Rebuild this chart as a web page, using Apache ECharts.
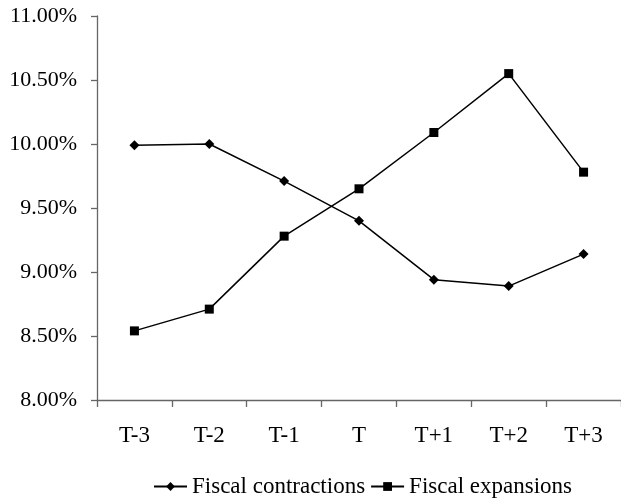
<!DOCTYPE html>
<html>
<head>
<meta charset="utf-8">
<script src="https://cdn.jsdelivr.net/npm/echarts@6/dist/echarts.min.js"></script>
<style>
  html, body { margin: 0; padding: 0; background: #fff; }
  #chart { width: 621px; height: 502px; }
</style>
</head>
<body>
<div id="chart"></div>
<script>
// Event window around the fiscal episode
const periods = ['T-3', 'T-2', 'T-1', 'T', 'T+1', 'T+2', 'T+3'];

// Values in percent
const fiscalContractions = [9.99, 10.00, 9.71, 9.40, 8.94, 8.89, 9.14];
const fiscalExpansions = [8.54, 8.71, 9.28, 9.65, 10.09, 10.55, 9.78];

const seriesNames = ['Fiscal contractions', 'Fiscal expansions'];

const yMin = 8.0;
const yMax = 11.0;
const yStep = 0.5;

const FONT = '"Liberation Serif", "Times New Roman", serif';
const AXIS_COLOR = '#666666';

const chart = echarts.init(document.getElementById('chart'), null, { renderer: 'canvas' });

chart.setOption({
  animation: false,
  backgroundColor: '#ffffff',
  textStyle: { fontFamily: FONT, color: '#000' },
  grid: { left: 97, top: 16, right: -1, bottom: 102, containLabel: false },
  legend: {
    left: 148,
    top: 470,
    itemWidth: 33,
    itemHeight: 11,
    itemGap: 5,
    textStyle: { fontFamily: FONT, fontSize: 23, color: '#000' },
    data: seriesNames
  },
  xAxis: {
    type: 'category',
    data: periods,
    boundaryGap: true,
    axisLine: { lineStyle: { color: AXIS_COLOR, width: 1.3 } },
    axisTick: { show: true, inside: false, length: 7, lineStyle: { color: AXIS_COLOR, width: 1.3 } },
    axisLabel: { fontFamily: FONT, fontSize: 23, color: '#000', margin: 24 },
    splitLine: { show: false }
  },
  yAxis: {
    type: 'value',
    min: yMin,
    max: yMax,
    interval: yStep,
    axisLine: { show: true, lineStyle: { color: AXIS_COLOR, width: 1.3 } },
    axisTick: { show: true, inside: false, length: 6, lineStyle: { color: AXIS_COLOR, width: 1.3 } },
    axisLabel: {
      fontFamily: FONT, fontSize: 22, color: '#000', margin: 20,
      formatter: v => v.toFixed(2) + '%'
    },
    splitLine: { show: false }
  },
  series: [
    {
      name: seriesNames[0],
      type: 'line',
      data: fiscalContractions,
      symbol: 'diamond',
      symbolSize: [10, 10],
      showAllSymbol: true,
      lineStyle: { color: '#000', width: 1.5 },
      itemStyle: { color: '#000', borderWidth: 0 }
    },
    {
      name: seriesNames[1],
      type: 'line',
      data: fiscalExpansions,
      symbol: 'rect',
      symbolSize: [9, 9],
      showAllSymbol: true,
      lineStyle: { color: '#000', width: 1.5 },
      itemStyle: { color: '#000', borderWidth: 0 }
    }
  ]
});
</script>
</body>
</html>
